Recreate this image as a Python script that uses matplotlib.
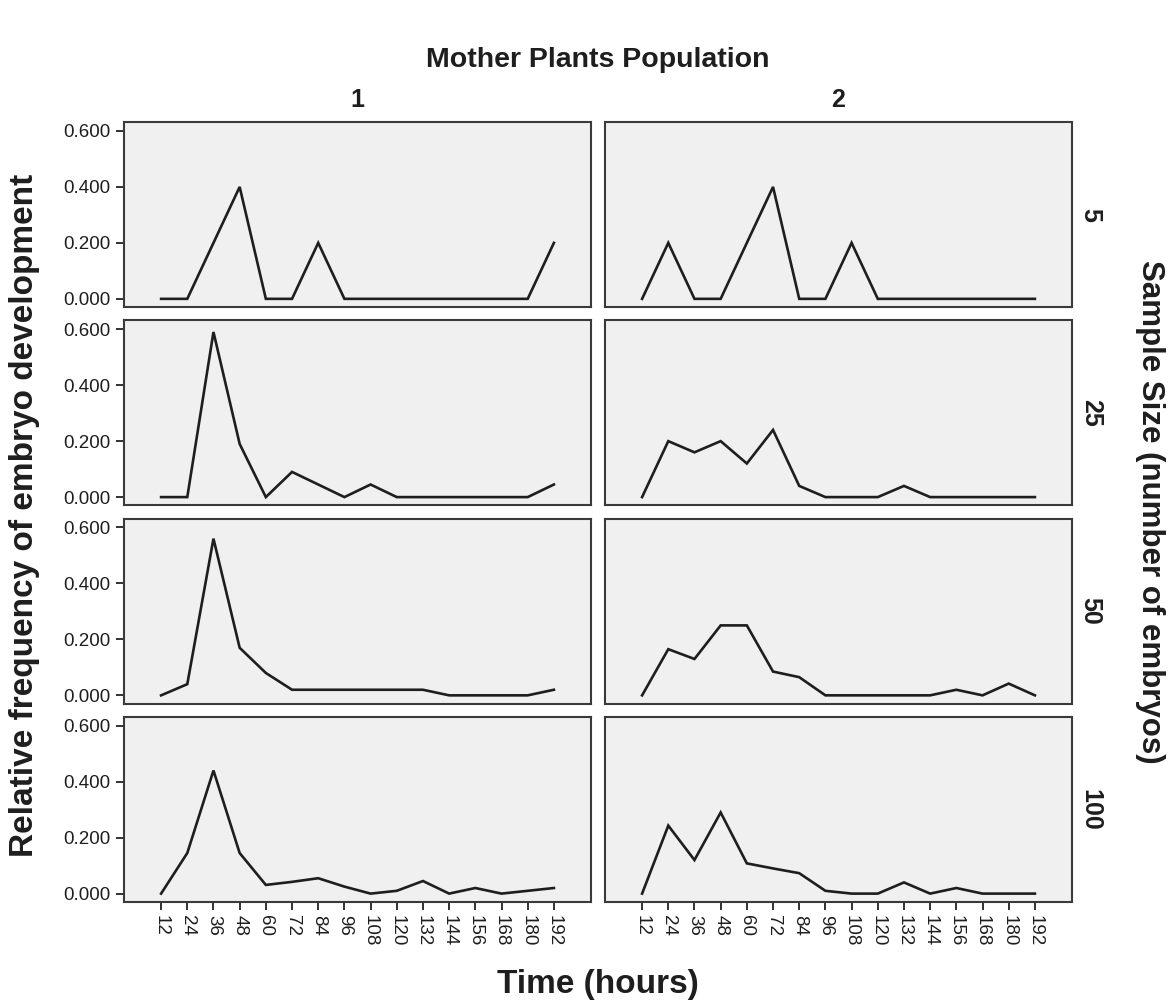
import numpy as np
import matplotlib
matplotlib.use("Agg")
import matplotlib.pyplot as plt

# hours on the x axis
hours = [12, 24, 36, 48, 60, 72, 84, 96, 108, 120, 132, 144, 156, 168, 180, 192]
populations = ["1", "2"]
sample_sizes = ["5", "25", "50", "100"]
yticks = [0.0, 0.2, 0.4, 0.6]

# relative frequency, one list per (sample size, population)
pop1_n5 = [0, 0, 0.2, 0.4, 0, 0, 0.2, 0, 0, 0, 0, 0, 0, 0, 0, 0.2]
pop2_n5 = [0, 0.2, 0, 0, 0.2, 0.4, 0, 0, 0.2, 0, 0, 0, 0, 0, 0, 0]
pop1_n25 = [0, 0, 0.59, 0.19, 0, 0.09, 0.045, 0, 0.045, 0, 0, 0, 0, 0, 0, 0.045]
pop2_n25 = [0, 0.2, 0.16, 0.2, 0.12, 0.24, 0.04, 0, 0, 0, 0.04, 0, 0, 0, 0, 0]
pop1_n50 = [0, 0.04, 0.56, 0.17, 0.08, 0.02, 0.02, 0.02, 0.02, 0.02, 0.02, 0, 0, 0, 0, 0.02]
pop2_n50 = [0, 0.165, 0.13, 0.25, 0.25, 0.085, 0.065, 0, 0, 0, 0, 0, 0.02, 0, 0.042, 0]
pop1_n100 = [0, 0.145, 0.44, 0.145, 0.031, 0.042, 0.055, 0.025, 0, 0.01, 0.045, 0, 0.02, 0, 0.01, 0.02]
pop2_n100 = [0, 0.243, 0.12, 0.29, 0.108, 0.09, 0.073, 0.01, 0, 0, 0.04, 0, 0.02, 0, 0, 0]

grid = [[pop1_n5, pop2_n5],
        [pop1_n25, pop2_n25],
        [pop1_n50, pop2_n50],
        [pop1_n100, pop2_n100]]

plt.rcParams['font.family'] = ['Liberation Sans', 'DejaVu Sans']
EDGE = '#3a3a3a'
TXT = '#1e1e1e'

fig, axes = plt.subplots(4, 2, figsize=(11.74, 10.07), dpi=100, sharex=True, sharey=True)
fig.patch.set_facecolor('white')
fig.subplots_adjust(left=124/1174, right=1072/1174, top=1-122/1007, bottom=1-902/1007,
                    wspace=14/467, hspace=13/185)

for r in range(4):
    for c in range(2):
        ax = axes[r, c]
        ax.set_facecolor('#f0f0f0')
        ax.plot(hours, grid[r][c], color='#1e1e1e', lw=1.9, solid_joinstyle='miter')
        ax.set_xlim(-5, 209)
        ax.set_ylim(-0.03, 0.632)
        ax.set_yticks(yticks)
        ax.set_xticks(hours)
        for s in ax.spines.values():
            s.set_color(EDGE)
            s.set_linewidth(1.5)
        ax.tick_params(axis='both', direction='out', length=6, width=1.3, color='#222222',
                       labelsize=13.5, labelcolor=TXT)
        if c == 1:
            ax.tick_params(axis='y', left=False)
        if r < 3:
            ax.tick_params(axis='x', bottom=False)
        if c == 0:
            ax.set_yticklabels([f'{v:.3f}' for v in yticks])
        if r == 3:
            ax.set_xticklabels([str(h) for h in hours], rotation=270)
        if r == 0:
            ax.text(0.5, 1.12, populations[c], transform=ax.transAxes, ha='center', va='center',
                    fontsize=18, fontweight='bold', color=TXT)
        if c == 1:
            ax.text(1.04, 0.5, sample_sizes[r], transform=ax.transAxes, ha='center', va='center',
                    rotation=270, fontsize=18, fontweight='bold', color=TXT)

fig.text(598/1174, 1-60/1007, 'Mother Plants Population', ha='center', va='center',
         fontsize=20.5, fontweight='bold', color=TXT)
fig.text(598/1174, 1-985/1007, 'Time (hours)', ha='center', va='center',
         fontsize=24, fontweight='bold', color=TXT)
fig.text(25/1174, 1-515/1007, 'Relative frequency of embryo development', ha='center', va='center',
         rotation=90, fontsize=24, fontweight='bold', color=TXT)
fig.text(1150/1174, 1-512/1007, 'Sample Size (number of embryos)', ha='center', va='center',
         rotation=270, fontsize=22.5, fontweight='bold', color=TXT)

fig.savefig('out.png', dpi=100)
